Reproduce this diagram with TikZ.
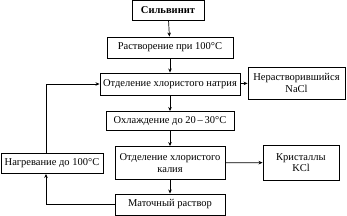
\documentclass[tikz,border=0pt]{standalone}
\usepackage{fontspec}
\setmainfont{Liberation Serif}
\usetikzlibrary{arrows.meta}
\begin{document}
\begin{tikzpicture}[x=1pt,y=-1pt,
  box/.style={draw,line width=0.9pt,inner sep=1pt,align=center,font=\fontsize{10.5}{11.5}\selectfont},
  conn/.style={line width=0.7pt,-{Stealth[length=4pt,width=3.5pt]}}]
\useasboundingbox (0,0) rectangle (347,216);
\node[box,minimum width=72pt,minimum height=20pt,font=\fontsize{10.5}{11.5}\selectfont\bfseries] (silv) at (168,10.5) {Сильвинит};
\node[box,minimum width=126pt,minimum height=21pt] (rast) at (170,47.5) {Растворение при 100°С};
\node[box,minimum width=140pt,minimum height=22pt] (otdNa) at (170,84) {Отделение хлористого натрия};
\node[box,minimum width=97pt,minimum height=32pt] (nerast) at (296.5,83) {Нерастворившийся\\NaCl};
\node[box,minimum width=128pt,minimum height=19pt] (ohl) at (170,121) {Охлаждение до 20\,–\,30°С};
\node[box,minimum width=110pt,minimum height=33pt] (otdK) at (170,163) {Отделение хлористого\\калия};
\node[box,minimum width=76pt,minimum height=35pt] (krist) at (301,162.5) {Кристаллы\\KCl};
\node[box,minimum width=102pt,minimum height=20pt] (nagr) at (52,163.5) {Нагревание до 100°С};
\node[box,minimum width=110pt,minimum height=21pt] (mat) at (170,204.5) {Маточный раствор};
\coordinate (lx) at (46,0);
\draw[conn] (silv) -- (rast);
\draw[conn] (rast) -- (otdNa);
\draw[conn] (otdNa) -- (nerast);
\draw[conn] (otdNa) -- (ohl);
\draw[conn] (ohl) -- (otdK);
\draw[conn] (otdK) -- (krist);
\draw[conn] (otdK) -- (mat);
\draw[conn] (mat.west) -| (lx |- nagr.south);
\draw[conn] (lx |- nagr.north) |- (otdNa.west);
\end{tikzpicture}
\end{document}
